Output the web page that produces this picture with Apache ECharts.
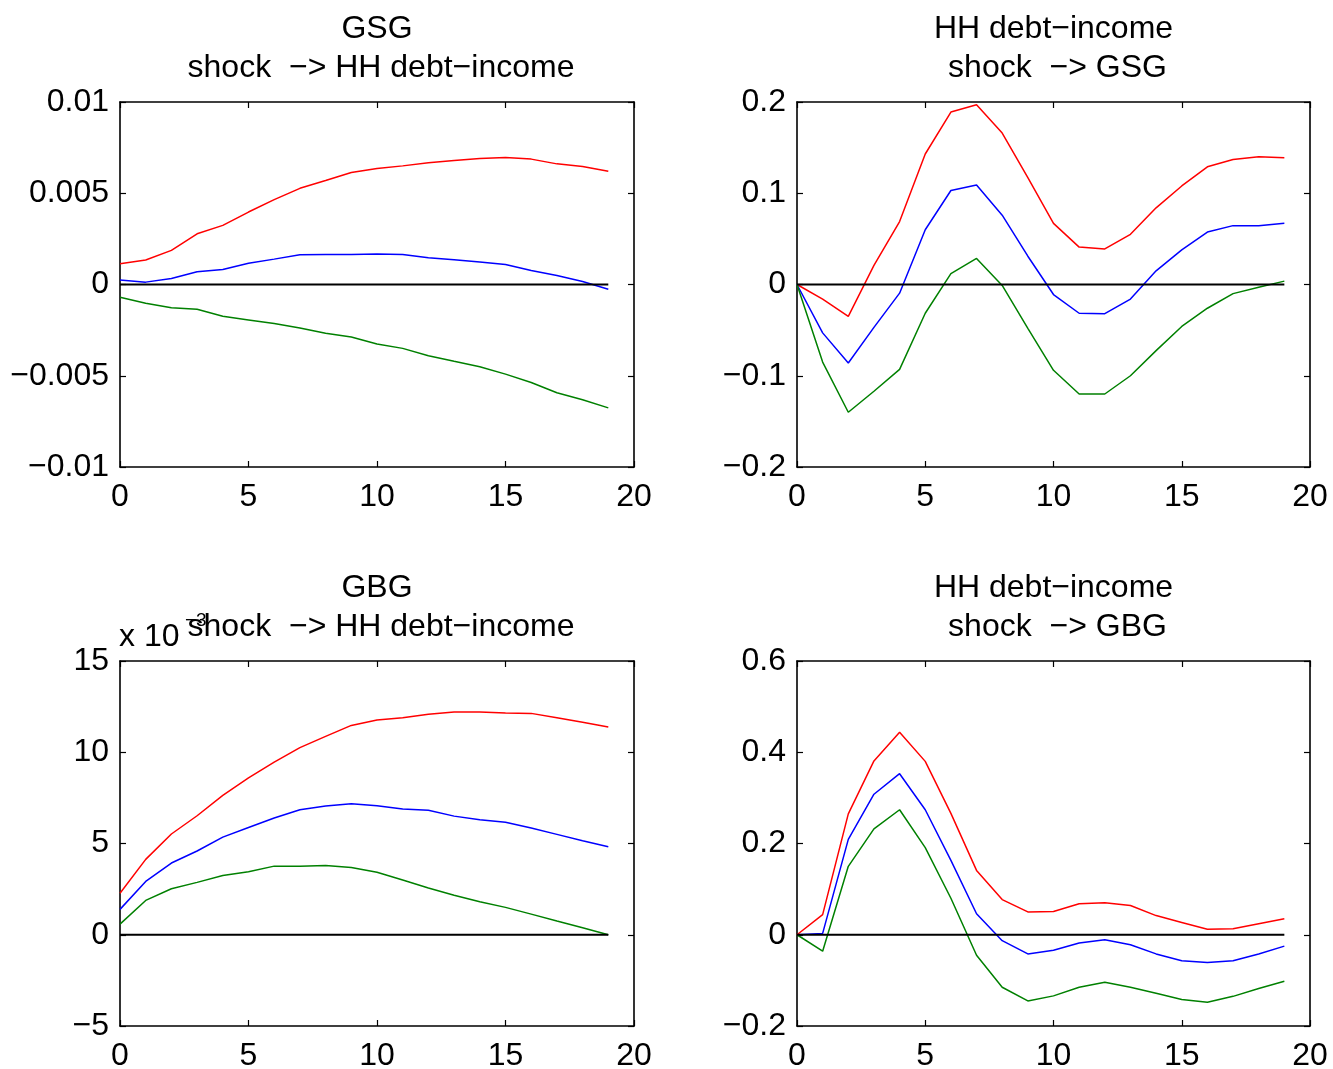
<!DOCTYPE html>
<html><head><meta charset="utf-8">
<script src="https://cdn.jsdelivr.net/npm/echarts@6/dist/echarts.min.js"></script>
<style>html,body{margin:0;padding:0;background:#fff;overflow:hidden}#c{width:1333px;height:1069px}</style>
</head><body><div id="c"></div>
<script>
const periods = [0,1,2,3,4,5,6,7,8,9,10,11,12,13,14,15,16,17,18,19];

// Panel 1: GSG shock -> HH debt-income
const p1Upper  = [0.00114,0.00134,0.00187,0.00278,0.00324,0.00397,0.00465,0.00527,0.00570,0.00614,0.00636,0.00650,0.00667,0.00679,0.00690,0.00696,0.00687,0.00661,0.00647,0.00621];
const p1Median = [0.00024,0.00013,0.00033,0.00070,0.00082,0.00117,0.00139,0.00163,0.00165,0.00165,0.00167,0.00165,0.00147,0.00136,0.00123,0.00110,0.00077,0.00049,0.00016,-0.00026];
const p1Lower  = [-0.00070,-0.00103,-0.00128,-0.00136,-0.00174,-0.00194,-0.00214,-0.00238,-0.00267,-0.00288,-0.00326,-0.00350,-0.00390,-0.00421,-0.00451,-0.00491,-0.00537,-0.00593,-0.00632,-0.00676];

// Panel 2: HH debt-income shock -> GSG
const p2Upper  = [0,-0.016,-0.035,0.021,0.069,0.143,0.189,0.197,0.166,0.117,0.067,0.041,0.039,0.055,0.084,0.108,0.129,0.137,0.140,0.139];
const p2Median = [0,-0.053,-0.086,-0.047,-0.0095,0.060,0.103,0.109,0.076,0.031,-0.011,-0.0315,-0.032,-0.016,0.015,0.038,0.0575,0.0645,0.0645,0.067];
const p2Lower  = [0,-0.085,-0.140,-0.117,-0.093,-0.0315,0.012,0.0286,-0.001,-0.048,-0.094,-0.120,-0.120,-0.100,-0.0725,-0.046,-0.026,-0.010,-0.003,0.0037];

// Panel 3: GBG shock -> HH debt-income (x 10^-3)
const p3Upper  = [2.27,4.13,5.52,6.52,7.64,8.59,9.46,10.25,10.87,11.47,11.77,11.89,12.08,12.21,12.21,12.15,12.13,11.89,11.64,11.38];
const p3Median = [1.39,2.92,3.93,4.59,5.35,5.88,6.40,6.85,7.05,7.18,7.07,6.89,6.82,6.50,6.30,6.16,5.85,5.50,5.15,4.82];
const p3Lower  = [0.58,1.88,2.52,2.87,3.25,3.45,3.76,3.76,3.80,3.69,3.42,3.00,2.56,2.16,1.81,1.50,1.13,0.75,0.38,0.0];

// Panel 4: HH debt-income shock -> GBG
const p4Upper  = [0,0.044,0.265,0.381,0.444,0.380,0.266,0.141,0.077,0.050,0.051,0.068,0.070,0.064,0.042,0.027,0.012,0.013,0.024,0.035];
const p4Median = [0,0.003,0.209,0.308,0.353,0.274,0.163,0.046,-0.013,-0.042,-0.034,-0.018,-0.011,-0.022,-0.042,-0.057,-0.061,-0.057,-0.042,-0.025];
const p4Lower  = [0,-0.036,0.150,0.232,0.274,0.191,0.080,-0.045,-0.115,-0.145,-0.134,-0.115,-0.104,-0.115,-0.128,-0.142,-0.148,-0.135,-0.118,-0.102];

const titles = [
  ['GSG', 'shock  \u2212> HH debt\u2212income'],
  ['HH debt\u2212income', 'shock  \u2212> GSG'],
  ['GBG', 'shock  \u2212> HH debt\u2212income'],
  ['HH debt\u2212income', 'shock  \u2212> GBG']
];
const yRanges = [[-0.01, 0.01, 0.005], [-0.2, 0.2, 0.1], [-5, 15, 5], [-0.2, 0.6, 0.2]];
const xTicks = [0, 20, 5];
const panelData = [
  [p1Upper, p1Median, p1Lower],
  [p2Upper, p2Median, p2Lower],
  [p3Upper, p3Median, p3Lower],
  [p4Upper, p4Median, p4Lower]
];

const FONT = '"Liberation Sans", Arial, Helvetica, sans-serif';
const FS = 32;
const colors = ['#ff0000', '#0000ff', '#008000'];
const grids = [
  {left: 120, top: 102, width: 514, height: 365, outerBoundsMode: 'none', containLabel: false},
  {left: 797, top: 102, width: 513, height: 365, outerBoundsMode: 'none', containLabel: false},
  {left: 120, top: 661, width: 514, height: 365, outerBoundsMode: 'none', containLabel: false},
  {left: 797, top: 661, width: 513, height: 365, outerBoundsMode: 'none', containLabel: false}
];

const fmt = v => String(+(+v).toFixed(4)).replace('-', '\u2212');
const axisLine = {show: true, onZero: false, lineStyle: {color: '#000', width: 1.6}};
const axisTick = {show: true, inside: true, length: 6, lineStyle: {color: '#000', width: 1.2}};

const xAxis = [], yAxis = [], series = [], graphic = [];
grids.forEach((g, i) => {
  const [ymin, ymax, yint] = yRanges[i];
  ['bottom', 'top'].forEach(pos => {
    xAxis.push({
      gridIndex: i, type: 'value', position: pos,
      min: xTicks[0], max: xTicks[1], interval: xTicks[2],
      axisLine, axisTick, splitLine: {show: false},
      axisLabel: {show: pos === 'bottom', color: '#000', fontSize: FS, fontFamily: FONT, margin: 14,
        showMinLabel: true, showMaxLabel: true, formatter: fmt}
    });
  });
  ['left', 'right'].forEach(pos => {
    yAxis.push({
      gridIndex: i, type: 'value', position: pos,
      min: ymin, max: ymax, interval: yint,
      axisLine, axisTick, splitLine: {show: false},
      axisLabel: {show: pos === 'left', color: '#000', fontSize: FS, fontFamily: FONT, margin: 11,
        showMinLabel: true, showMaxLabel: true, formatter: fmt}
    });
  });
  panelData[i].forEach((arr, k) => {
    series.push({
      type: 'line', xAxisIndex: 2 * i, yAxisIndex: 2 * i, symbol: 'none', silent: true,
      data: periods.map((p, j) => [p, arr[j]]),
      lineStyle: {color: colors[k], width: 1.5}, itemStyle: {color: colors[k]}
    });
  });
  series.push({
    type: 'line', xAxisIndex: 2 * i, yAxisIndex: 2 * i, symbol: 'none', silent: true,
    data: periods.map(p => [p, 0]),
    lineStyle: {color: '#000', width: 2}, itemStyle: {color: '#000'}
  });
  const cx = g.left + g.width / 2;
  graphic.push({type: 'text', x: cx, y: g.top - 73, style: {text: titles[i][0], font: FS + 'px ' + FONT, fill: '#000', textAlign: 'center', textVerticalAlign: 'middle'}});
  graphic.push({type: 'text', x: cx + 4, y: g.top - 34, style: {text: titles[i][1], font: FS + 'px ' + FONT, fill: '#000', textAlign: 'center', textVerticalAlign: 'middle'}});
});
// exponent label for panel 3
graphic.push({type: 'text', x: 119, y: 637, style: {text: 'x 10', font: FS + 'px ' + FONT, fill: '#000', textAlign: 'left', textVerticalAlign: 'middle'}});
graphic.push({type: 'text', x: 185, y: 621, style: {text: '\u22123', font: '19px ' + FONT, fill: '#000', textAlign: 'left', textVerticalAlign: 'middle'}});

const chart = echarts.init(document.getElementById('c'), null, {renderer: 'canvas'});
chart.setOption({
  animation: false,
  backgroundColor: '#fff',
  grid: grids,
  xAxis, yAxis, series, graphic
});
</script>
</body></html>
